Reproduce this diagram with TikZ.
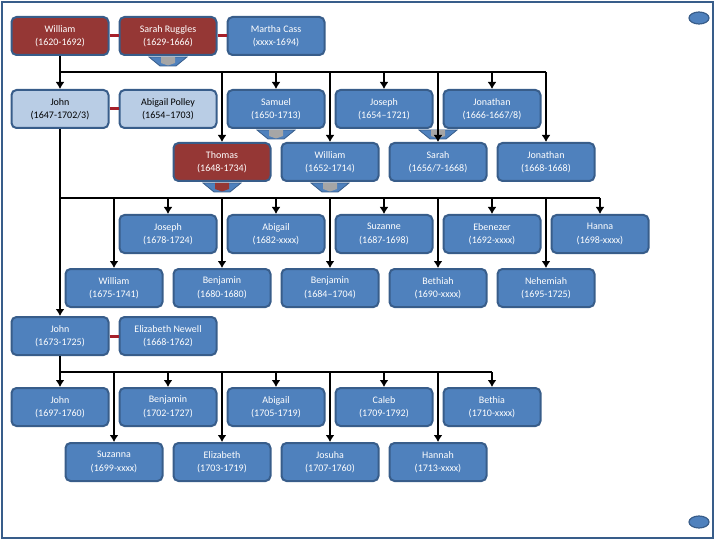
\documentclass[tikz,border=0pt]{standalone}
\usepackage{fontspec}
\setmainfont{Carlito}
\usetikzlibrary{arrows.meta}

\definecolor{boxblue}{HTML}{4F81BD}
\definecolor{boxline}{HTML}{385D8A}
\definecolor{boxred}{HTML}{953735}
\definecolor{boxlight}{HTML}{B9CDE5}
\definecolor{wedred}{HTML}{A5202A}
\definecolor{chevgray}{HTML}{A6A6A6}

\tikzset{
  person/.style={draw=boxline, line width=2pt, fill=boxblue, rounded corners=5pt,
    minimum width=97pt, minimum height=38pt, inner sep=1pt, align=center,
    text=white, font=\fontsize{10}{13.5}\selectfont},
  heir/.style={person, fill=boxred},
  spouse/.style={person, fill=boxlight, text=black},
  wed/.style={draw=wedred, line width=3pt},
  bus/.style={draw=black, line width=2.8pt},
  child/.style={bus, -{Latex[length=7pt,width=9pt]}},
  pics/chev/.style={code={
    \filldraw[fill=boxblue, draw=boxline, line width=0.8pt]
      (-19,1) -- (19,1) -- (8,10) -- (-8,10) -- cycle;
    \fill[#1] (-7,1) -- (7,1) -- (7,7) -- (0,9.5) -- (-7,7) -- cycle;
  }}
}

\begin{document}
\begin{tikzpicture}[x=1pt,y=-1pt]
  \useasboundingbox (0,0) rectangle (720,540);
  \draw[boxline, line width=1.5pt] (2,2) rectangle (713,538);
  \filldraw[fill=boxblue, draw=boxline, line width=1.2pt] (699,18) ellipse (10 and 6);
  \filldraw[fill=boxblue, draw=boxline, line width=1.2pt] (699,522) ellipse (10 and 6);

  % first generation
  \node[heir]   (w1620) at (60,36)  {William\\(1620-1692)};
  \node[heir]   (sr)    at (168,36) {Sarah Ruggles\\(1629-1666)};
  \node[person] (mc)    at (276,36) {Martha Cass\\(xxxx-1694)};

  % children of William
  \node[spouse] (j1647)  at (60,109)  {John\\(1647-1702/3)};
  \node[spouse] (ap)     at (168,109) {Abigail Polley\\(1654--1703)};
  \node[person] (s1650)  at (276,109) {Samuel\\(1650-1713)};
  \node[person] (jo1654) at (384,109) {Joseph\\(1654--1721)};
  \node[person] (jn1666) at (492,109) {Jonathan\\(1666-1667/8)};
  \node[heir]   (t1648)  at (222,162) {Thomas\\(1648-1734)};
  \node[person] (w1652)  at (330,162) {William\\(1652-1714)};
  \node[person] (sa1656) at (438,162) {Sarah\\(1656/7-1668)};
  \node[person] (jn1668) at (546,162) {Jonathan\\(1668-1668)};

  % children of John and Abigail
  \node[person] (jo1678) at (168,234) {Joseph\\(1678-1724)};
  \node[person] (ab1682) at (276,234) {Abigail\\(1682-xxxx)};
  \node[person] (su1687) at (384,234) {Suzanne\\(1687-1698)};
  \node[person] (eb1692) at (492,234) {Ebenezer\\(1692-xxxx)};
  \node[person] (ha1698) at (600,234) {Hanna\\(1698-xxxx)};
  \node[person] (w1675)  at (114,288) {William\\(1675-1741)};
  \node[person] (be1680) at (222,288) {Benjamin\\(1680-1680)};
  \node[person] (be1684) at (330,288) {Benjamin\\(1684--1704)};
  \node[person] (bt1690) at (438,288) {Bethiah\\(1690-xxxx)};
  \node[person] (ne1695) at (546,288) {Nehemiah\\(1695-1725)};
  \node[person] (j1673)  at (60,336)  {John\\(1673-1725)};
  \node[person] (en)     at (168,336) {Elizabeth Newell\\(1668-1762)};

  % children of John and Elizabeth
  \node[person] (j1697)  at (60,407)  {John\\(1697-1760)};
  \node[person] (be1702) at (168,407) {Benjamin\\(1702-1727)};
  \node[person] (ab1705) at (276,407) {Abigail\\(1705-1719)};
  \node[person] (ca1709) at (384,407) {Caleb\\(1709-1792)};
  \node[person] (bt1710) at (492,407) {Bethia\\(1710-xxxx)};
  \node[person] (su1699) at (114,462) {Suzanna\\(1699-xxxx)};
  \node[person] (el1703) at (222,462) {Elizabeth\\(1703-1719)};
  \node[person] (js1707) at (330,462) {Josuha\\(1707-1760)};
  \node[person] (hn1713) at (438,462) {Hannah\\(1713-xxxx)};

  % marriages
  \draw[wed] (w1620) -- (sr);
  \draw[wed] (sr) -- (mc);
  \draw[wed] (j1647) -- (ap);
  \draw[wed] (j1673) -- (en);

  % chevrons
  \path (sr.south) pic {chev=chevgray};
  \path (s1650.south) pic {chev=chevgray};
  \path (sa1656.north |- jo1654.south) pic {chev=chevgray};
  \path (t1648.south) pic {chev=boxred};
  \path (w1652.south) pic {chev=chevgray};

  % family lines
  \coordinate (bus1) at (60,72);
  \coordinate (bus2) at (60,198);
  \coordinate (bus3) at (60,372);

  \draw[child] (w1620) -- (j1647);
  \draw[bus] (bus1) -- (bus1 -| jn1668.north);
  \foreach \n in {s1650,jo1654,jn1666,t1648,w1652,sa1656,jn1668}
    \draw[child] (\n.north |- bus1) -- (\n.north);

  \draw[child] (j1647) -- (j1673);
  \draw[bus] (bus2) -- (bus2 -| ha1698.north);
  \foreach \n in {jo1678,ab1682,su1687,eb1692,ha1698,w1675,be1680,be1684,bt1690,ne1695}
    \draw[child] (\n.north |- bus2) -- (\n.north);

  \draw[child] (j1673) -- (j1697);
  \draw[bus] (bus3) -- (bus3 -| bt1710.north);
  \foreach \n in {be1702,ab1705,ca1709,bt1710,su1699,el1703,js1707,hn1713}
    \draw[child] (\n.north |- bus3) -- (\n.north);
\end{tikzpicture}
\end{document}
